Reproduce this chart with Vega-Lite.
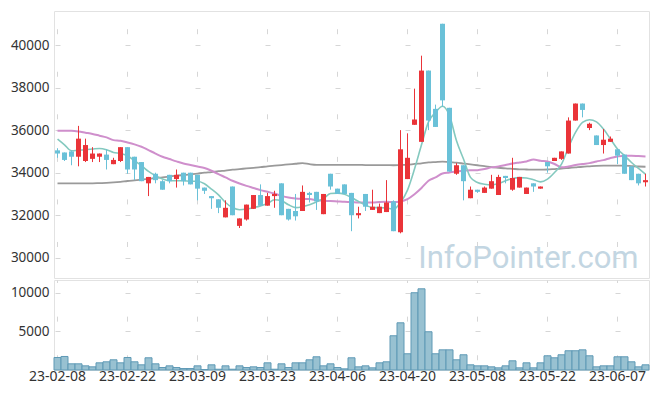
{
  "$schema": "https://vega.github.io/schema/vega-lite/v6.json",
  "background": "white",
  "padding": {"left": 5, "top": 10, "right": 9, "bottom": 3},
  "spacing": 0,
  "config": {
    "view": {"stroke": "#e2e2e2"},
    "axis": {"labelFont": "Noto Sans", "labelFontSize": 13.5, "labelColor": "#333333", "ticks": false, "domain": false, "gridColor": "#d6d6d6", "gridWidth": 1}
  },
  "datasets": {
    "k": [
      {"d":"23-02-08","o":35050,"h":35150,"l":34700,"c":34900,"v":1620,"m5":35580,"m20":35970,"m60":33500},
      {"d":"23-02-09","o":34950,"h":34950,"l":34550,"c":34600,"v":1750,"m5":35310,"m20":35970,"m60":33500},
      {"d":"23-02-10","o":35000,"h":35050,"l":34350,"c":34750,"v":800,"m5":35030,"m20":35970,"m60":33500},
      {"d":"23-02-13","o":34750,"h":36200,"l":34300,"c":35600,"v":800,"m5":35060,"m20":35940,"m60":33500},
      {"d":"23-02-14","o":34550,"h":35600,"l":34500,"c":35300,"v":540,"m5":35080,"m20":35880,"m60":33500},
      {"d":"23-02-15","o":34650,"h":35200,"l":34500,"c":34900,"v":410,"m5":35110,"m20":35820,"m60":33500},
      {"d":"23-02-16","o":34750,"h":34900,"l":34500,"c":34900,"v":930,"m5":35140,"m20":35740,"m60":33510},
      {"d":"23-02-17","o":34850,"h":35100,"l":34150,"c":34600,"v":1060,"m5":35080,"m20":35660,"m60":33520},
      {"d":"23-02-20","o":34400,"h":34700,"l":34400,"c":34600,"v":1320,"m5":34950,"m20":35530,"m60":33540},
      {"d":"23-02-21","o":34550,"h":35200,"l":34500,"c":35200,"v":930,"m5":34900,"m20":35500,"m60":33570},
      {"d":"23-02-22","o":35200,"h":35200,"l":33950,"c":34150,"v":1620,"m5":34800,"m20":35420,"m60":33610},
      {"d":"23-02-23","o":34750,"h":34750,"l":33650,"c":34150,"v":1060,"m5":34560,"m20":35330,"m60":33640},
      {"d":"23-02-24","o":34500,"h":34500,"l":33600,"c":33600,"v":670,"m5":34330,"m20":35220,"m60":33670},
      {"d":"23-02-27","o":33500,"h":33800,"l":32900,"c":33800,"v":1580,"m5":34060,"m20":35060,"m60":33710},
      {"d":"23-02-28","o":33950,"h":34000,"l":33500,"c":33650,"v":800,"m5":33860,"m20":34900,"m60":33750},
      {"d":"23-03-02","o":33600,"h":33650,"l":33200,"c":33200,"v":320,"m5":33700,"m20":34750,"m60":33780},
      {"d":"23-03-03","o":33900,"h":33900,"l":33500,"c":33600,"v":540,"m5":33620,"m20":34640,"m60":33820},
      {"d":"23-03-06","o":33700,"h":34150,"l":33300,"c":33900,"v":320,"m5":33620,"m20":34530,"m60":33860},
      {"d":"23-03-07","o":34000,"h":34000,"l":33400,"c":33600,"v":190,"m5":33620,"m20":34430,"m60":33890},
      {"d":"23-03-08","o":34000,"h":34000,"l":33450,"c":33450,"v":190,"m5":33600,"m20":34360,"m60":33920},
      {"d":"23-03-09","o":33900,"h":33900,"l":32700,"c":33250,"v":540,"m5":33600,"m20":34290,"m60":33960},
      {"d":"23-03-10","o":33300,"h":33300,"l":33000,"c":33150,"v":60,"m5":33480,"m20":34220,"m60":34000},
      {"d":"23-03-13","o":32900,"h":32900,"l":32300,"c":32800,"v":670,"m5":33230,"m20":34090,"m60":34030},
      {"d":"23-03-14","o":32750,"h":32750,"l":32100,"c":32350,"v":100,"m5":32960,"m20":33930,"m60":34070},
      {"d":"23-03-15","o":31900,"h":32700,"l":31900,"c":32350,"v":540,"m5":32600,"m20":33780,"m60":34100},
      {"d":"23-03-16","o":33350,"h":33350,"l":32000,"c":32000,"v":100,"m5":32360,"m20":33620,"m60":34140},
      {"d":"23-03-17","o":31500,"h":31850,"l":31400,"c":31850,"v":540,"m5":32260,"m20":33490,"m60":34170},
      {"d":"23-03-20","o":31800,"h":32500,"l":31750,"c":32500,"v":320,"m5":32290,"m20":33380,"m60":34200},
      {"d":"23-03-21","o":32300,"h":32950,"l":32300,"c":32950,"v":410,"m5":32360,"m20":33280,"m60":34230},
      {"d":"23-03-22","o":32950,"h":33450,"l":32450,"c":32450,"v":320,"m5":32440,"m20":33180,"m60":34260},
      {"d":"23-03-23","o":32450,"h":33050,"l":32450,"c":32900,"v":930,"m5":32550,"m20":33100,"m60":34300},
      {"d":"23-03-24","o":32900,"h":33150,"l":32350,"c":33000,"v":100,"m5":32730,"m20":33020,"m60":34330},
      {"d":"23-03-27","o":33500,"h":33500,"l":32000,"c":32000,"v":800,"m5":32680,"m20":32910,"m60":34360},
      {"d":"23-03-28","o":32300,"h":32300,"l":31750,"c":31800,"v":320,"m5":32490,"m20":32830,"m60":34390},
      {"d":"23-03-29","o":32200,"h":33000,"l":31750,"c":31950,"v":930,"m5":32360,"m20":32790,"m60":34420},
      {"d":"23-03-30","o":32200,"h":33400,"l":32200,"c":33100,"v":930,"m5":32400,"m20":32770,"m60":34450},
      {"d":"23-03-31","o":33050,"h":33100,"l":32600,"c":32950,"v":1320,"m5":32490,"m20":32760,"m60":34400},
      {"d":"23-04-03","o":33100,"h":33100,"l":32250,"c":32650,"v":1710,"m5":32630,"m20":32710,"m60":34370},
      {"d":"23-04-04","o":32050,"h":33000,"l":32050,"c":33000,"v":540,"m5":32790,"m20":32680,"m60":34370},
      {"d":"23-04-05","o":33950,"h":33950,"l":33200,"c":33350,"v":800,"m5":33020,"m20":32670,"m60":34370},
      {"d":"23-04-06","o":33250,"h":33250,"l":33000,"c":33000,"v":320,"m5":33040,"m20":32650,"m60":34370},
      {"d":"23-04-07","o":33450,"h":33450,"l":33000,"c":33000,"v":150,"m5":32990,"m20":32630,"m60":34370},
      {"d":"23-04-10","o":33050,"h":33050,"l":31250,"c":32000,"v":1580,"m5":32830,"m20":32620,"m60":34370},
      {"d":"23-04-11","o":32000,"h":32400,"l":31850,"c":32100,"v":410,"m5":32650,"m20":32600,"m60":34370},
      {"d":"23-04-12","o":33000,"h":33000,"l":32200,"c":32400,"v":540,"m5":32480,"m20":32600,"m60":34360},
      {"d":"23-04-13","o":32250,"h":33200,"l":32250,"c":32400,"v":280,"m5":32360,"m20":32600,"m60":34360},
      {"d":"23-04-14","o":32100,"h":32550,"l":32100,"c":32400,"v":930,"m5":32360,"m20":32620,"m60":34360},
      {"d":"23-04-17","o":32150,"h":33650,"l":32150,"c":32600,"v":1060,"m5":32340,"m20":32630,"m60":34360},
      {"d":"23-04-18","o":32650,"h":32700,"l":31250,"c":31250,"v":4430,"m5":32290,"m20":32620,"m60":34350},
      {"d":"23-04-19","o":31200,"h":36000,"l":31150,"c":35100,"v":6110,"m5":32600,"m20":32650,"m60":34360},
      {"d":"23-04-20","o":33700,"h":35850,"l":33700,"c":34700,"v":2100,"m5":33180,"m20":32760,"m60":34370},
      {"d":"23-04-21","o":36250,"h":37950,"l":36250,"c":36500,"v":10000,"m5":34170,"m20":32990,"m60":34410},
      {"d":"23-04-24","o":35450,"h":39500,"l":35450,"c":38800,"v":10510,"m5":35310,"m20":33280,"m60":34440},
      {"d":"23-04-25","o":38800,"h":38800,"l":36000,"c":36450,"v":4950,"m5":36390,"m20":33620,"m60":34480},
      {"d":"23-04-26","o":37000,"h":37200,"l":36150,"c":36150,"v":2100,"m5":36830,"m20":33780,"m60":34500},
      {"d":"23-04-27","o":41000,"h":41000,"l":37100,"c":37400,"v":2610,"m5":37120,"m20":33960,"m60":34520},
      {"d":"23-04-28","o":37050,"h":37050,"l":34050,"c":34050,"v":2610,"m5":36680,"m20":34010,"m60":34490},
      {"d":"23-05-02","o":33950,"h":34450,"l":33900,"c":34350,"v":1320,"m5":35500,"m20":34060,"m60":34470},
      {"d":"23-05-03","o":34350,"h":34350,"l":32700,"c":33600,"v":1970,"m5":34640,"m20":34090,"m60":34430},
      {"d":"23-05-04","o":32800,"h":33350,"l":32800,"c":33200,"v":670,"m5":33780,"m20":34120,"m60":34390},
      {"d":"23-05-08","o":33200,"h":33200,"l":33050,"c":33100,"v":540,"m5":33540,"m20":34120,"m60":34350},
      {"d":"23-05-09","o":33050,"h":33350,"l":33050,"c":33300,"v":540,"m5":33460,"m20":34170,"m60":34310},
      {"d":"23-05-10","o":33250,"h":33900,"l":33250,"c":33600,"v":410,"m5":33430,"m20":34250,"m60":34260},
      {"d":"23-05-11","o":32950,"h":33900,"l":32950,"c":33800,"v":280,"m5":33490,"m20":34290,"m60":34230},
      {"d":"23-05-12","o":33850,"h":33850,"l":33500,"c":33750,"v":540,"m5":33620,"m20":34360,"m60":34200},
      {"d":"23-05-15","o":33200,"h":34700,"l":33150,"c":33750,"v":1190,"m5":33730,"m20":34430,"m60":34180},
      {"d":"23-05-16","o":33300,"h":33800,"l":33300,"c":33800,"v":280,"m5":33770,"m20":34480,"m60":34160},
      {"d":"23-05-17","o":33000,"h":33300,"l":33000,"c":33300,"v":930,"m5":33750,"m20":34530,"m60":34150},
      {"d":"23-05-18","o":33500,"h":33500,"l":33100,"c":33350,"v":280,"m5":33670,"m20":34620,"m60":34140},
      {"d":"23-05-19","o":33250,"h":33350,"l":33250,"c":33350,"v":930,"m5":33570,"m20":34560,"m60":34140},
      {"d":"23-05-22","o":34500,"h":34500,"l":34000,"c":34300,"v":1840,"m5":33700,"m20":34530,"m60":34150},
      {"d":"23-05-23","o":34550,"h":34700,"l":34550,"c":34700,"v":1580,"m5":34010,"m20":34410,"m60":34170},
      {"d":"23-05-24","o":34650,"h":35000,"l":34600,"c":35000,"v":1970,"m5":34400,"m20":34250,"m60":34190},
      {"d":"23-05-25","o":34900,"h":36600,"l":34900,"c":36450,"v":2490,"m5":35190,"m20":34290,"m60":34220},
      {"d":"23-05-26","o":36450,"h":37250,"l":36450,"c":37250,"v":2490,"m5":35890,"m20":34360,"m60":34250},
      {"d":"23-05-30","o":37250,"h":37250,"l":36600,"c":36950,"v":2610,"m5":36360,"m20":34410,"m60":34280},
      {"d":"23-05-31","o":36100,"h":36350,"l":36000,"c":36300,"v":1840,"m5":36490,"m20":34450,"m60":34300},
      {"d":"23-06-01","o":35750,"h":35750,"l":35300,"c":35300,"v":410,"m5":36390,"m20":34530,"m60":34320},
      {"d":"23-06-02","o":35300,"h":36050,"l":34900,"c":35550,"v":540,"m5":36050,"m20":34590,"m60":34330},
      {"d":"23-06-05","o":35450,"h":35700,"l":35450,"c":35600,"v":540,"m5":35580,"m20":34690,"m60":34330},
      {"d":"23-06-07","o":35100,"h":35100,"l":34400,"c":34800,"v":1710,"m5":35110,"m20":34760,"m60":34330},
      {"d":"23-06-08","o":34850,"h":34850,"l":33950,"c":33950,"v":1710,"m5":34800,"m20":34800,"m60":34330},
      {"d":"23-06-09","o":34300,"h":34300,"l":33650,"c":33650,"v":1060,"m5":34480,"m20":34800,"m60":34310},
      {"d":"23-06-12","o":33950,"h":33950,"l":33400,"c":33500,"v":410,"m5":34200,"m20":34780,"m60":34290},
      {"d":"23-06-13","o":33550,"h":33950,"l":33350,"c":33650,"v":670,"m5":33930,"m20":34760,"m60":34280}
    ]
  },
  "vconcat": [
    {
      "width": 595,
      "height": 267,
      "data": {"name": "k"},
      "encoding": {
        "x": {
          "field": "d", "type": "ordinal", "title": null,
          "scale": {"paddingInner": 0, "paddingOuter": 0},
          "axis": {
            "orient": "top", "labels": false, "ticks": false, "domain": false, "grid": true,
            "values": ["23-02-08","23-02-22","23-03-09","23-03-23","23-04-06","23-04-20","23-05-08","23-05-22","23-06-07"],
            "gridDash": [5, 37.55], "gridDashOffset": 11.01
          }
        }
      },
      "layer": [
        {
          "mark": {"type": "line", "color": "#9a9a9a", "strokeWidth": 1.8, "interpolate": "monotone"},
          "encoding": {
            "y": {
              "field": "m60", "type": "quantitative", "title": null,
              "scale": {"domain": [29050, 41600], "nice": false, "zero": false},
              "axis": {
                "values": [30000, 32000, 34000, 36000, 38000, 40000], "grid": true, "format": "d",
                "gridDash": [5, 65], "gridDashOffset": 69,
                "labelPadding": 5, "minExtent": 48, "maxExtent": 48
              }
            }
          }
        },
        {
          "data": {"values": [{"t": "InfoPointer.com"}]},
          "mark": {"type": "text", "font": "Roboto", "fontSize": 31, "align": "right", "baseline": "alphabetic", "color": "#c3d6e2"},
          "encoding": {
            "x": {"datum": "23-06-12", "type": "ordinal"},
            "y": {"datum": 29520, "type": "quantitative"},
            "text": {"field": "t"}
          }
        },
        {
          "mark": {"type": "line", "color": "#cf8fcc", "strokeWidth": 2, "interpolate": "monotone"},
          "encoding": {"y": {"field": "m20", "type": "quantitative"}}
        },
        {
          "mark": {"type": "line", "color": "#84c9bf", "strokeWidth": 1.6, "interpolate": "monotone"},
          "encoding": {"y": {"field": "m5", "type": "quantitative"}}
        },
        {
          "mark": {"type": "rule", "strokeWidth": 1},
          "encoding": {
            "y": {"field": "l", "type": "quantitative"},
            "y2": {"field": "h"},
            "color": {"condition": {"test": "datum.c >= datum.o", "value": "#ea3439"}, "value": "#6ac1d8"}
          }
        },
        {
          "mark": {"type": "bar", "width": 5},
          "encoding": {
            "y": {"field": "o", "type": "quantitative"},
            "y2": {"field": "c"},
            "color": {"condition": {"test": "datum.c >= datum.o", "value": "#ea3439"}, "value": "#6ac1d8"}
          }
        }
      ]
    },
    {
      "width": 595,
      "height": 90,
      "data": {"name": "k"},
      "mark": {"type": "bar", "width": {"band": 1}, "fill": "#98c1d1", "stroke": "#5e99b5", "strokeWidth": 1},
      "encoding": {
        "x": {
          "field": "d", "type": "ordinal", "title": null,
          "scale": {"paddingInner": 0, "paddingOuter": 0},
          "axis": {
            "labelAngle": 0, "labelPadding": -1, "labelFontSize": 14, "grid": true,
            "values": ["23-02-08","23-02-22","23-03-09","23-03-23","23-04-06","23-04-20","23-05-08","23-05-22","23-06-07"],
            "gridDash": [5, 33.63], "gridDashOffset": 2.5
          }
        },
        "y": {
          "field": "v", "type": "quantitative", "title": null,
          "scale": {"domain": [0, 11650], "nice": false},
          "axis": {
            "values": [5000, 10000], "grid": true, "format": "d",
            "gridDash": [5, 65], "gridDashOffset": 69,
            "labelPadding": 5, "minExtent": 48, "maxExtent": 48
          }
        }
      }
    }
  ]
}
